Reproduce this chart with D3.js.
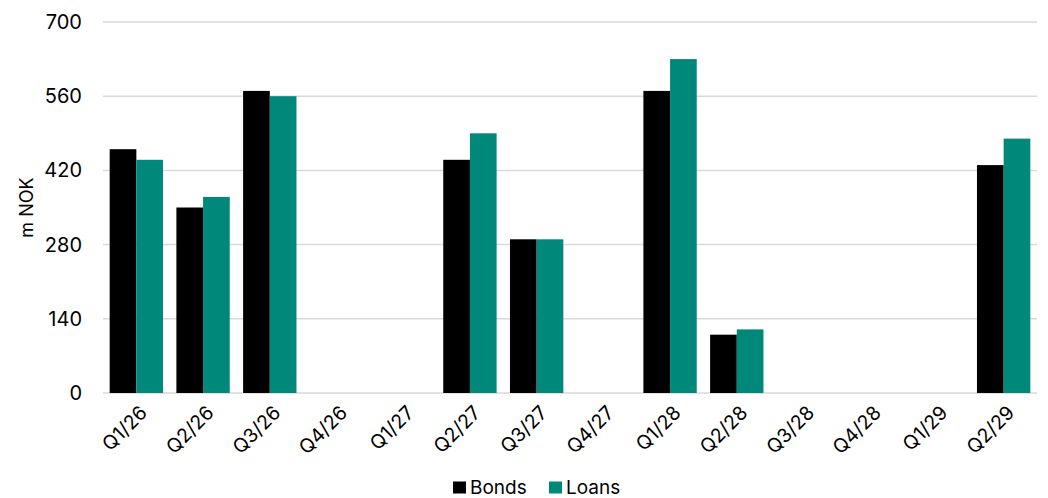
<!DOCTYPE html>
<html>
<head>
<meta charset="utf-8">
<script src="https://cdn.jsdelivr.net/npm/d3@7"></script>
<style>
  html, body { margin: 0; padding: 0; background: #fff; }
  svg { display: block; font-family: Inter, "Liberation Sans", sans-serif; }
</style>
</head>
<body>
<svg id="chart" width="1048" height="498"></svg>
<script>
// Quarterly maturities, m NOK
const quarters = ["Q1/26","Q2/26","Q3/26","Q4/26","Q1/27","Q2/27","Q3/27","Q4/27","Q1/28","Q2/28","Q3/28","Q4/28","Q1/29","Q2/29"];
const bonds = [460, 350, 570, 0, 0, 440, 290, 0, 570, 110, 0, 0, 0, 430];
const loans = [440, 370, 560, 0, 0, 490, 290, 0, 630, 120, 0, 0, 0, 480];
const yTicks = [0, 140, 280, 420, 560, 700];
const seriesNames = ["Bonds", "Loans"];
const seriesColors = ["#000000", "#00897b"];

const svg = d3.select("#chart");
const margin = { left: 103, right: 11, top: 22, bottom: 105 };
const W = 1048, H = 498;

const x = d3.scaleBand().domain(quarters).range([margin.left, W - margin.right]).paddingInner(0.2).paddingOuter(0.1);
const xs = d3.scaleBand().domain(seriesNames).range([0, x.bandwidth()]);
const y = d3.scaleLinear().domain([0, 700]).range([H - margin.bottom, margin.top]);

// gridlines
svg.append("g")
  .selectAll("line").data(yTicks).join("line")
  .attr("x1", margin.left).attr("x2", W - margin.right)
  .attr("y1", d => y(d)).attr("y2", d => y(d))
  .attr("stroke", "#d9d9d9").attr("stroke-width", 1.5);

// y axis labels
const yAxis = d3.axisLeft(y).tickValues(yTicks).tickSize(0).tickPadding(21);
svg.append("g").attr("transform", `translate(${margin.left},0)`).call(yAxis)
  .call(g => g.select(".domain").remove())
  .selectAll("text").attr("font-size", 20).attr("fill", "#000").attr("font-family", "Inter, sans-serif");

svg.append("text")
  .attr("transform", `translate(33,${(y(0) + y(700)) / 2}) rotate(-90)`)
  .attr("text-anchor", "middle").attr("font-size", 18).attr("fill", "#000")
  .text("m NOK");

// bars
const data = quarters.map((q, i) => ({ q, vals: [bonds[i], loans[i]] }));
const groups = svg.append("g").selectAll("g").data(data).join("g")
  .attr("transform", d => `translate(${x(d.q)},0)`);
groups.selectAll("rect").data(d => d.vals.map((v, j) => ({ v, name: seriesNames[j], c: seriesColors[j] })))
  .join("rect")
  .attr("x", d => xs(d.name)).attr("width", xs.bandwidth())
  .attr("y", d => y(d.v)).attr("height", d => y(0) - y(d.v))
  .attr("fill", d => d.c);

// x axis labels
const xAxis = d3.axisBottom(x).tickSize(0).tickPadding(0);
svg.append("g").attr("transform", `translate(0,${y(0)})`).call(xAxis)
  .call(g => g.select(".domain").remove())
  .selectAll("text")
  .attr("font-size", 19.5).attr("fill", "#000").attr("font-family", "Inter, sans-serif")
  .attr("text-anchor", "end")
  .attr("dy", "0")
  .attr("transform", "translate(12,21) rotate(-45)");

// legend
const legend = svg.append("g").attr("transform", "translate(453,487)");
const items = [{ n: "Bonds", c: seriesColors[0], dx: 0 }, { n: "Loans", c: seriesColors[1], dx: 96 }];
items.forEach(it => {
  const g = legend.append("g").attr("transform", `translate(${it.dx},0)`);
  g.append("rect").attr("x", 0).attr("y", -5.5).attr("width", 13).attr("height", 12).attr("fill", it.c);
  g.append("text").attr("x", 17).attr("y", 6.5).attr("font-size", 19).attr("fill", "#000").text(it.n);
});
</script>
</body>
</html>
